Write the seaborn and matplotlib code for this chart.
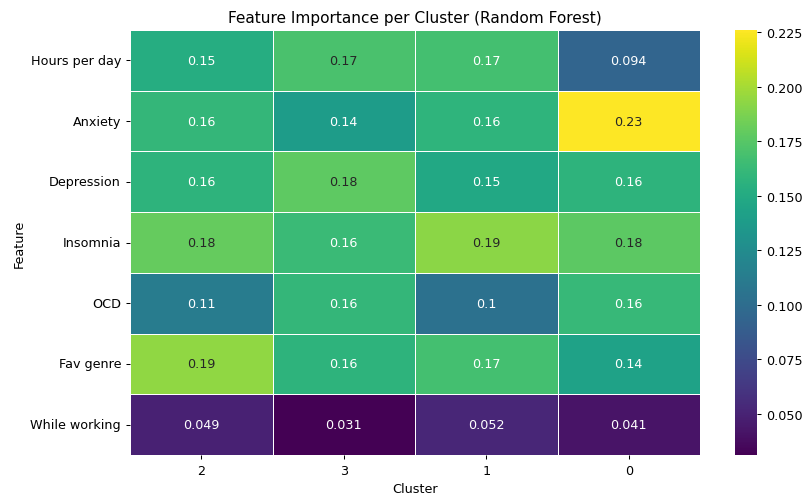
import matplotlib
matplotlib.use("Agg")
import matplotlib.pyplot as plt
import seaborn as sns
import pandas as pd

features = ["Hours per day", "Anxiety", "Depression", "Insomnia", "OCD", "Fav genre", "While working"]
clusters = ["2", "3", "1", "0"]

cluster_2 = [0.152, 0.160, 0.157, 0.180, 0.112, 0.194, 0.049]
cluster_3 = [0.170, 0.138, 0.178, 0.163, 0.160, 0.157, 0.031]
cluster_1 = [0.168, 0.158, 0.148, 0.192, 0.104, 0.168, 0.052]
cluster_0 = [0.094, 0.226, 0.157, 0.177, 0.162, 0.143, 0.041]

importance = pd.DataFrame(
    {"2": cluster_2, "3": cluster_3, "1": cluster_1, "0": cluster_0},
    index=features,
)[clusters]
importance.index.name = "Feature"
importance.columns.name = "Cluster"

DPI = 92
fig = plt.figure(figsize=(804 / DPI, 498 / DPI), dpi=DPI)
ax = fig.add_axes([130 / 804, 42 / 498, 570 / 804, 425 / 498])
cax = fig.add_axes([735 / 804, 42 / 498, 22 / 804, 425 / 498])
sns.heatmap(importance, annot=True, fmt=".2g", cmap="viridis",
            linewidths=0.5, linecolor="white", ax=ax, cbar_ax=cax)
ax.set_title("Feature Importance per Cluster (Random Forest)")
ax.set_xlabel("Cluster")
ax.set_ylabel("Feature")
ax.tick_params(axis="y", rotation=0)
fig.savefig("out.png", dpi=DPI)
